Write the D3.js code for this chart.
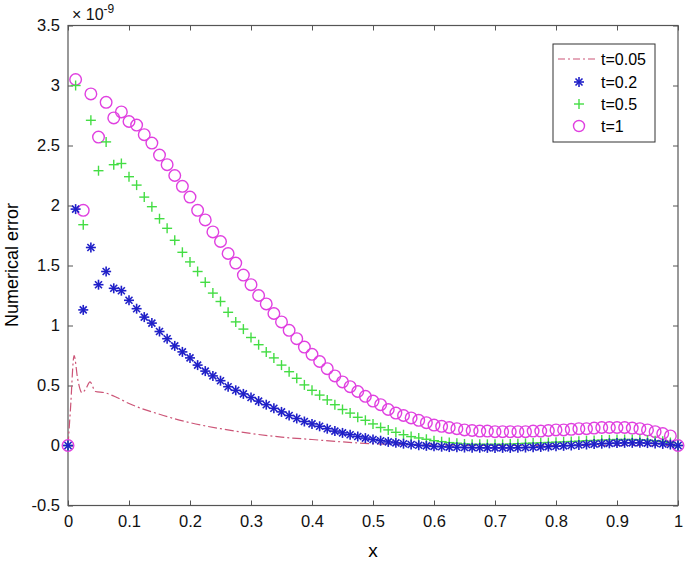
<!DOCTYPE html>
<html><head><meta charset="utf-8">
<script src="https://cdn.jsdelivr.net/npm/d3@7"></script>
<style>body{margin:0;background:#fff}svg{font-family:"Liberation Sans",Arial,sans-serif}</style>
</head><body><svg id="c" width="685" height="564"></svg>
<script>
const xTicks=[0,0.1,0.2,0.3,0.4,0.5,0.6,0.7,0.8,0.9,1];
const yTicks=[-0.5,0,0.5,1,1.5,2,2.5,3,3.5];
const seriesNames=["t=0.05","t=0.2","t=0.5","t=1"];
const redX=[0,0.004,0.01,0.016,0.023,0.03,0.036,0.045,0.06,0.08,0.1,0.15,0.2,0.25,0.3,0.35,0.4,0.45,0.5,0.6,0.7,0.8,0.9,1];
const redY=[0,0.3,0.75,0.55,0.44,0.48,0.53,0.45,0.44,0.40,0.35,0.26,0.19,0.14,0.10,0.07,0.05,0.03,0.015,0.005,0,0,0,0];
const blueY=[0,1.97,1.13,1.65,1.34,1.45,1.31,1.29,1.21,1.14,1.07,1.02,0.95,0.89,0.83,0.78,0.73,0.67,0.62,0.58,0.54,0.49,0.46,0.43,0.40,0.37,0.34,0.31,0.28,0.25,0.225,0.20,0.18,0.16,0.14,0.12,0.105,0.09,0.075,0.062,0.05,0.04,0.03,0.022,0.015,0.008,0.002,-0.003,-0.007,-0.01,-0.013,-0.015,-0.017,-0.018,-0.019,-0.02,-0.02,-0.02,-0.02,-0.019,-0.017,-0.015,-0.012,-0.009,-0.006,-0.003,0,0.004,0.008,0.012,0.015,0.018,0.02,0.022,0.022,0.022,0.02,0.017,0.013,0.008,0];
const greenY=[0,3.0,1.84,2.71,2.29,2.53,2.34,2.35,2.24,2.17,2.07,1.99,1.89,1.81,1.71,1.61,1.53,1.45,1.36,1.27,1.20,1.11,1.03,0.97,0.90,0.84,0.78,0.73,0.67,0.615,0.56,0.505,0.46,0.42,0.38,0.34,0.30,0.27,0.235,0.21,0.18,0.15,0.13,0.11,0.09,0.074,0.063,0.052,0.04,0.032,0.024,0.019,0.013,0.01,0.01,0.01,0.01,0.01,0.012,0.015,0.018,0.02,0.022,0.025,0.028,0.03,0.033,0.036,0.04,0.042,0.045,0.047,0.05,0.05,0.05,0.048,0.045,0.04,0.035,0.025,0];
const magentaY=[0,3.05,1.96,2.93,2.57,2.86,2.73,2.78,2.70,2.67,2.59,2.52,2.42,2.34,2.25,2.16,2.07,1.96,1.88,1.78,1.70,1.60,1.52,1.42,1.34,1.25,1.18,1.10,1.03,0.96,0.89,0.82,0.76,0.70,0.64,0.58,0.53,0.49,0.45,0.41,0.37,0.34,0.30,0.27,0.25,0.23,0.21,0.19,0.17,0.16,0.15,0.14,0.13,0.125,0.12,0.12,0.115,0.115,0.115,0.115,0.115,0.12,0.12,0.125,0.13,0.13,0.135,0.14,0.14,0.145,0.15,0.15,0.15,0.15,0.145,0.14,0.13,0.115,0.10,0.08,0];
const colors={red:"#cc5577",blue:"#2020c8",green:"#44dd44",mag:"#e040e0"};

const svg=d3.select("#c");
const x=d3.scaleLinear().domain([0,1]).range([68,678]);
const y=d3.scaleLinear().domain([-0.5,3.5]).range([505.5,25.5]);
const xi=i=>i/80;
const ax="#555";
svg.append("rect").attr("x",68).attr("y",25.5).attr("width",610).attr("height",480).attr("fill","none").attr("stroke",ax).attr("stroke-width",1.2);
svg.append("g").attr("transform","translate(0,505.5)").call(d3.axisBottom(x).tickValues(xTicks).tickSize(-5).tickPadding(10).tickFormat(d3.format("")));
svg.append("g").attr("transform","translate(68,0)").call(d3.axisLeft(y).tickValues(yTicks).tickSize(-5).tickPadding(8).tickFormat(d=>d));
svg.append("g").attr("transform","translate(678,0)").call(d3.axisRight(y).tickValues(yTicks).tickSize(-5).tickFormat(""));
svg.append("g").attr("transform","translate(0,25.5)").call(d3.axisTop(x).tickValues(xTicks).tickSize(-5).tickFormat(""));
svg.selectAll(".domain").remove();
svg.selectAll(".tick line").attr("stroke",ax);
svg.selectAll(".tick text").attr("font-size",16.5).attr("fill","#111").attr("font-family","Liberation Sans, Arial");
svg.append("text").attr("x",72).attr("y",20).attr("font-size",16).attr("fill","#111").html('× 10<tspan dy="-7" font-size="12">-9</tspan>');
svg.append("text").attr("x",373).attr("y",557).attr("text-anchor","middle").attr("font-size",19).text("x");
svg.append("text").attr("transform","translate(18,265) rotate(-90)").attr("text-anchor","middle").attr("font-size",18).text("Numerical error");

svg.append("path").datum(redX.map((v,i)=>[v,redY[i]])).attr("fill","none").attr("stroke",colors.red).attr("stroke-width",1.2).attr("stroke-dasharray","9,3,2,3")
 .attr("d",d3.line().x(d=>x(d[0])).y(d=>y(d[1])).curve(d3.curveMonotoneX));
function star(s,cx,cy,c,r){const gg=s.append("g").attr("stroke",c).attr("stroke-width",1.6);
 [[r,0],[0,r],[r*0.7,r*0.7],[r*0.7,-r*0.7]].forEach(([a,b])=>gg.append("line").attr("x1",cx-a).attr("y1",cy-b).attr("x2",cx+a).attr("y2",cy+b));}
function plus(s,cx,cy,c,r){const gg=s.append("g").attr("stroke",c).attr("stroke-width",1.4);
 gg.append("line").attr("x1",cx-r).attr("x2",cx+r).attr("y1",cy).attr("y2",cy);
 gg.append("line").attr("x1",cx).attr("x2",cx).attr("y1",cy-r).attr("y2",cy+r);}
magentaY.forEach((v,i)=>svg.append("circle").attr("cx",x(xi(i))).attr("cy",y(v)).attr("r",5.8).attr("fill","none").attr("stroke",colors.mag).attr("stroke-width",1.4));
greenY.forEach((v,i)=>plus(svg,x(xi(i)),y(v),colors.green,5));
blueY.forEach((v,i)=>star(svg,x(xi(i)),y(v),colors.blue,5));

const L=svg.append("g");
L.append("rect").attr("x",553).attr("y",44).attr("width",102).attr("height",98).attr("fill","#fff").attr("stroke","#333");
const ly=[59,82,104,126];
L.append("line").attr("x1",558).attr("x2",598).attr("y1",ly[0]).attr("y2",ly[0]).attr("stroke",colors.red).attr("stroke-width",1.2).attr("stroke-dasharray","7,3,2,3");
star(L,579,ly[1],colors.blue,5);plus(L,579,ly[2],colors.green,5);
L.append("circle").attr("cx",579).attr("cy",ly[3]).attr("r",5.5).attr("fill","none").attr("stroke",colors.mag).attr("stroke-width",1.4);
seriesNames.forEach((n,i)=>L.append("text").attr("x",601).attr("y",ly[i]+6).attr("font-size",16).text(n));
</script></body></html>
